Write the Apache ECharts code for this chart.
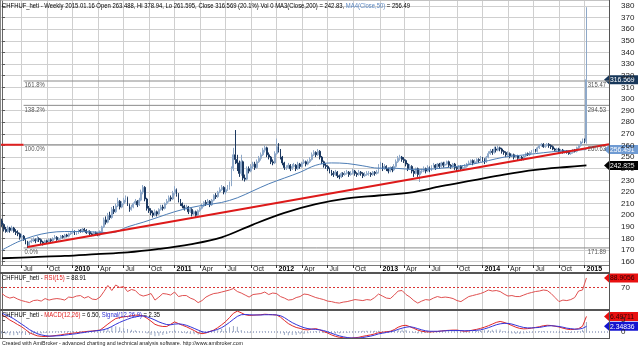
<!DOCTYPE html>
<html><head><meta charset="utf-8">
<script src="https://cdn.jsdelivr.net/npm/echarts@6/dist/echarts.min.js"></script>
<style>html,body{margin:0;padding:0;background:#fff}#c{width:638px;height:347px}</style>
</head><body><div id="c"></div>
<script>
// ---------------- DATA ----------------
const startFriday = [2009, 4, 1];       // first weekly bar: Friday 2009-05-01
const padWeeks = 11;                      // empty weeks on the right of the last bar
const firstOpen = 195;
const closes = [
192,188,186,189,187,189,186,185,184,181,
182,179,177,174,177,178,179,178,180,179,
177,176,178,177,179,178,180,181,179,180,
182,181,183,182,184,185,186,184,185,187,
186,188,187,185,186,184,183,185,184,183,
186,190,196,194,200,198,205,203,208,212,
207,210,213,215,209,205,207,210,212,209,
213,220,224,214,206,204,202,200,203,201,
205,207,206,210,212,215,214,219,222,218,
213,210,208,206,207,203,205,201,203,200,
204,206,208,211,210,212,209,213,217,216,
220,222,224,220,222,224,226,240,252,248,
245,236,246,232,231,240,238,242,244,241,
246,249,252,256,258,252,250,246,245,253,
259,256,250,245,241,241,243,240,242,243,
240,244,242,245,246,244,246,248,252,254,
252,255,250,246,243,242,240,238,236,235,
237,234,233,236,235,236,237,235,236,238,
236,235,237,236,234,235,236,236,235,237,
236,237,242,244,240,242,240,238,241,239,
242,246,249,250,248,247,244,240,242,238,
236,240,235,238,238,240,238,241,239,242,
243,241,244,242,245,243,244,246,243,242,
244,241,240,242,240,241,242,244,245,247,
245,246,248,247,249,248,246,250,253,255,
254,257,256,258,257,255,254,252,253,251,
252,250,251,249,250,248,251,253,252,254,
255,256,255,258,260,261,259,260,261,260,
259,257,256,257,255,256,254,255,254,253,
254,256,255,258,260,263,264,263.488,316.569];
const highs = [
197,193,190,191,190,191,190,188,187,185,
184,183,180,178,178,180,181,180,182,181,
180,178,179,179,180,180,181,183,182,181,
183,183,184,184,185,186,188,187,186,188,
188,189,189,188,187,187,185,186,186,185,
187,191,198,199,202,203,207,208,210,215,
213,212,215,217,216,210,209,211,214,213,
215,222,226,225,215,208,206,204,205,204,
206,209,209,211,214,217,217,221,225,223,
219,214,211,209,209,208,207,206,204,204,
205,207,210,212,213,214,213,214,218,219,
221,224,226,225,224,226,229,242,258,273.3,
252,247,252,247,235,242,242,244,246,246,
248,251,254,258,260,259,254,251,248,255,
266,262,257,251,246,243,245,244,244,245,
244,246,245,246,248,247,248,250,254,256,
255,257,256,251,247,245,243,241,239,238,
239,238,235,237,237,238,239,238,238,240,
239,237,239,238,237,237,238,238,237,238,
238,239,244,246,245,244,243,241,242,242,
244,248,251,252,251,250,248,245,244,243,
239,241,241,239,240,242,241,243,242,243,
245,244,245,245,246,246,246,247,247,244,
245,245,242,243,243,243,244,245,247,248,
248,248,249,249,251,250,249,251,255,257,
257,259,259,260,259,258,256,255,255,254,
253,253,252,252,251,251,252,254,254,255,
256,257,257,259,261,262,262,261,262,262,
261,260,258,258,258,257,257,256,256,255,
255,257,257,259,261,264,266,266,378.94];
const lows = [
190,186,185,185,185,186,185,183,182,179,
179,178,175,171.89,173,176,177,176,177,177,
175,174,175,176,176,177,177,179,178,178,
179,180,180,181,181,183,184,183,183,184,
185,185,186,184,184,183,182,182,183,182,
182,185,189,192,193,196,197,201,202,207,
205,206,209,211,208,203,204,206,209,207,
208,212,218,212,204,202,200,198,199,199,
200,204,204,205,209,211,212,213,217,216,
211,208,206,204,205,201,202,199,200,198,
199,203,205,207,208,209,207,208,212,214,
215,219,221,218,218,221,222,225,238,244,
238,233,234,230,229,230,236,237,240,239,
240,245,247,251,254,250,248,244,243,244,
252,254,248,243,239,239,240,238,239,241,
238,239,240,241,244,242,243,245,247,251,
250,251,248,244,241,240,238,236,234,233,
234,232,231,232,233,234,235,233,234,235,
234,233,234,234,232,233,234,234,233,234,
234,235,236,240,238,239,238,236,237,237,
238,241,245,247,246,245,242,238,239,236,
233,235,233,228.6,236,237,236,237,237,238,
241,239,240,240,241,241,242,243,241,240,
241,239,238,239,238,239,240,241,243,244,
243,244,245,245,246,246,244,245,249,252,
252,253,254,255,255,253,252,250,251,249,
250,248,249,247,248,247,247,250,251,251,
253,254,254,254,257,259,258,258,259,258,
257,256,255,255,254,254,253,253,253,252,
252,253,254,254,257,259,262,262,261.595];

const ma50Weeks = [0,8,16,24,32,40,48,56,64,72,80,88,96,104,112,120,128,136,144,152,160,168,176,184,192,200,208,216,224,232,240,248,256,264,272,280,288,296,298];
const ma50Vals  = [170,177,182,185,186,186,185.5,185,190,194,198.5,203,206.5,209,211,215,221,227,232,237,243,245,244.5,242.5,240.5,240.5,239.5,239.5,240.5,242,244,247,250,251.5,253,254.5,255.5,256.3,256.49];
const ma200Weeks = [0,16,32,48,64,80,96,112,128,144,160,176,192,208,224,240,256,272,288,298];
const ma200Vals  = [163,164,165,166.5,168,171,175,181,192,202,209.5,214.5,217,219.5,225,230,235,239,241.5,242.83];

const trendWeeks = [13, 309.5];
const trendVals  = [172.6, 261.0];

const fibLow = 171.89, fibHigh = 260.63;
const fibPcts = [0, 100, 138.2, 161.8];
const fibStartWeek = 11;

const indStep = 2;   // RSI / MACD read every 2nd week
const rsiVals = [
58,52,49,51,47,44,42,40,44,45,
43,48,45,47,48,47,45,51,50,53,
54,49,52,47,46,51,62,74,64,75,
70,72,62,66,64,56,53,55,58,45,
51,58,57,55,61,52,54,54,49,46,
40,44,51,55,58,59,61,63,65,68,
62,59,55,51,56,57,58,61,56,59,
58,52,49,45,46,50,52,57,56,53,
50,48,46,43,42,40,39,41,42,44,
46,45,44,46,45,50,57,53,49,48,
55,63,64,56,51,44,39,43,46,45,
49,52,50,51,50,48,44,42,47,52,
54,56,58,61,65,63,64,62,57,53,
54,52,52,55,58,60,62,63,65,64,
58,50,42,45,44,46,50,63,65,88.9056];
const macdVals = [
7.1,6.2,5.0,4.1,3.1,2.2,1.0,-0.3,-1.0,-1.6,
-1.8,-1.9,-1.8,-1.6,-1.4,-1.2,-0.9,-0.7,-0.5,-0.3,
-0.1,0.1,0.3,0.4,0.6,0.8,2.0,3.3,4.5,5.6,
6.0,6.3,6.5,6.8,7.0,7.0,6.7,5.7,4.5,3.2,
2.6,2.3,2.3,3.2,4.2,3.5,2.8,2.2,1.4,0.6,
-0.3,-0.7,-0.4,0.2,0.8,1.8,3.0,4.3,6.0,7.8,
8.7,8.0,7.2,6.9,7.0,7.1,7.2,7.4,7.3,7.2,
7.1,6.2,4.8,3.5,2.6,1.9,1.5,1.0,0.9,1.2,
1.4,0.9,0.2,-0.4,-1.2,-1.8,-2.2,-2.4,-2.6,-2.5,
-2.4,-2.2,-1.8,-1.5,-1.2,-0.8,-0.3,-0.1,0.1,0.3,
1.0,2.0,2.6,2.8,2.2,1.5,0.8,0.3,0.1,0.0,
0.1,0.2,0.4,0.6,0.7,0.8,0.8,0.5,0.3,0.4,
0.8,1.1,1.5,2.0,2.6,3.3,4.0,4.4,4.0,3.4,
2.7,2.0,1.5,1.3,1.4,1.6,1.9,2.2,2.6,2.8,
2.7,2.4,2.1,1.6,1.2,1.0,1.1,1.4,2.4,6.49711];
const signalVals = [
7.8,7.1,6.4,5.5,4.4,3.3,2.2,1.0,0.1,-0.7,
-1.2,-1.5,-1.7,-1.7,-1.6,-1.5,-1.3,-1.1,-0.9,-0.7,
-0.4,-0.2,0.1,0.3,0.5,0.7,1.0,1.5,2.3,3.2,
4.0,4.7,5.3,5.9,6.3,6.6,6.7,6.3,5.7,5.0,
4.2,3.6,3.1,3.0,3.3,3.4,3.2,2.8,2.2,1.5,
0.8,0.1,-0.2,0.2,0.6,1.1,1.8,2.8,4.0,5.3,
6.5,7.2,7.3,7.2,7.1,7.1,7.1,7.2,7.2,7.2,
7.1,6.8,6.0,4.9,3.9,3.1,2.4,1.8,1.4,1.2,
1.1,0.9,0.6,0.1,-0.5,-1.1,-1.6,-2.0,-2.3,-2.5,
-2.5,-2.5,-2.3,-2.0,-1.7,-1.3,-0.8,-0.5,-0.2,0.1,
0.5,1.1,1.6,2.0,2.2,1.9,1.4,0.9,0.5,0.3,
0.3,0.3,0.4,0.5,0.6,0.6,0.6,0.6,0.5,0.6,
0.6,0.7,0.9,1.3,1.8,2.4,3.0,3.4,3.6,3.6,
3.3,2.8,2.3,1.9,1.7,1.7,1.8,1.9,2.2,2.5,
2.6,2.5,2.3,2.0,1.6,1.4,1.2,1.2,1.5,2.34836];

const priceTicks = [160,170,180,190,200,210,220,230,240,250,260,270,280,290,300,310,320,330,340,350,360,370,380];
const rsiTicks = [70];
const macdTicks = [0, 5];
const rsiLevel = 70;
const monthAbbr = ['Jan','Feb','Mar','Apr','May','Jun','Jul','Aug','Sep','Oct','Nov','Dec'];

const titleMain = ['CHFHUF_heti - Weekly 2015.01.16 Open 263.488, Hi 378.94, Lo 261.595, Close 316.569 (20.1%) Vol 0 ', 'MA3(Close,200)', ' = 242.83, ', 'MA4(Close,50)', ' = 256.49'];
const titleRsi = ['CHFHUF_heti - ', 'RSI(15)', ' = 88.91'];
const titleMacd = ['CHFHUF_heti - ', 'MACD(12,26)', ' = 6.50, ', 'Signal(12,26,9)', ' = 2.35'];
const footerText = 'Created with AmiBroker - advanced charting and technical analysis software. http://www.amibroker.com';

// ---------------- BUILD ----------------
const nW = closes.length;
const nCat = nW + padWeeks;
const DAY = 86400000;
const t0 = Date.UTC(startFriday[0], startFriday[1], startFriday[2]);
const weekMonday = i => new Date(t0 + i * 7 * DAY - 4 * DAY);
const labelWeeks = [];
for (let i = 0; i < nCat; i++) {
  const m = weekMonday(i);
  if (m.getUTCDate() <= 7 && m.getUTCMonth() % 3 === 0) labelWeeks.push(i);
}
const ohlc = closes.map((c, i) => [i, i ? closes[i - 1] : firstOpen, c, lows[i], highs[i]]);
const ma50 = ma50Weeks.map((w, k) => [w, ma50Vals[k]]);
const ma200 = ma200Weeks.map((w, k) => [w, ma200Vals[k]]);
const rsi = rsiVals.map((v, k) => [k * indStep, v]);
const macd = macdVals.map((v, k) => [k * indStep, v]);
const signal = signalVals.map((v, k) => [k * indStep, v]);
const hist = macdVals.map((v, k) => [k * indStep, +(v - signalVals[k]).toFixed(3)]);
const fibVals = fibPcts.map(p => fibLow + (fibHigh - fibLow) * p / 100);

const X0 = -0.5, X1 = nCat - 0.5;
const FONT = 'Liberation Sans';
const gridL = 1, gridR = 29;

function xAxisCfg(gi, showLabels) {
  return {
    type: 'value', gridIndex: gi, min: X0, max: X1,
    axisLine: { show: showLabels, lineStyle: { color: '#777', width: 1 } },
    axisTick: { show: showLabels, customValues: labelWeeks, length: 3, lineStyle: { color: '#333' } },
    axisLabel: {
      show: showLabels, customValues: labelWeeks, margin: 1, align: 'left', padding: [0, 0, 0, 2],
      fontFamily: FONT, fontSize: 7, color: '#111',
      formatter: v => { const m = weekMonday(Math.round(v)); return m.getUTCMonth() === 0 ? '{y|' + m.getUTCFullYear() + '}' : '{m|' + monthAbbr[m.getUTCMonth()] + '}'; },
      rich: { y: { fontWeight: 'bold', fontSize: 7, fontFamily: FONT, color: '#000' }, m: { fontSize: 7, fontFamily: FONT, color: '#222' } }
    },
    splitLine: { show: true, lineStyle: { color: '#cfcfcf', width: 1 } }
  };
}
function yAxisCfg(gi, min, max, ticks, split) {
  return {
    type: 'value', gridIndex: gi, position: 'right', min: min, max: max, scale: true,
    axisLine: { show: true, lineStyle: { color: '#666' } },
    axisTick: { show: true, customValues: ticks, length: 3, lineStyle: { color: '#555' } },
    axisLabel: { customValues: ticks, margin: 12, fontFamily: FONT, fontSize: 8, color: '#222' },
    splitLine: { show: split, lineStyle: { color: '#cfcfcf', width: 1 } }
  };
}

const seg = (x0, x1, v) => [[x0, v], [x1, v]];
const lineS = (gi, data, color, width, extra) => Object.assign({
  type: 'line', xAxisIndex: gi, yAxisIndex: gi, data: data, symbol: 'none', silent: true,
  lineStyle: { color: color, width: width }, z: 3, animation: false
}, extra || {});

const series = [];
fibVals.forEach(v => series.push(lineS(0, seg(fibStartWeek, X1, v), '#8a8a8a', 1, { z: 1 })));
series.push(lineS(0, seg(X0, fibStartWeek, fibVals[1]), '#e02020', 2, { z: 1 }));
series.push(lineS(0, ma200, '#000000', 1.8, { smooth: 0.35 }));
series.push(lineS(0, ma50, '#4d7db5', 1, { smooth: 0.35 }));
series.push({
  type: 'candlestick', xAxisIndex: 0, yAxisIndex: 0, data: ohlc, encode: { x: 0, y: [1, 2, 3, 4] },
  barWidth: 1.4, z: 2, silent: true,
  itemStyle: { color: '#9fb7d3', color0: '#1b3860', borderColor: '#8ea8c8', borderColor0: '#1b3860', borderWidth: 1 }
});
series.push(lineS(0, trendWeeks.map((w, k) => [w, trendVals[k]]), '#dd1a1a', 2, { z: 4 }));
// RSI pane
series.push(lineS(1, seg(X0, X1, rsiLevel), '#d83030', 1, { lineStyle: { color: '#d83030', width: 1, type: [2, 2] }, z: 2 }));
series.push(lineS(1, rsi, '#e05050', 1));
// MACD pane
series.push(lineS(2, seg(X0, X1, 0), '#5f6f9f', 1, { lineStyle: { color: '#5f6f9f', width: 1, type: [1, 2] }, z: 1 }));
series.push({ type: 'bar', xAxisIndex: 2, yAxisIndex: 2, data: hist, barWidth: 1, silent: true, itemStyle: { color: '#9aa9c4' }, z: 2, animation: false });
series.push(lineS(2, macd, '#e02828', 1));
series.push(lineS(2, signal, '#3434d8', 1));

const option = {
  animation: false,
  backgroundColor: '#ffffff',
  grid: [
    { left: gridL, right: gridR, top: 1, height: 264 },
    { left: gridL, right: gridR, top: 274, height: 35 },
    { left: gridL, right: gridR, top: 311, height: 27 }
  ],
  xAxis: [xAxisCfg(0, true), xAxisCfg(1, false), xAxisCfg(2, false)],
  yAxis: [yAxisCfg(0, 157.2, 384.3, priceTicks, true), yAxisCfg(1, 27.3, 96.8, rsiTicks, false), yAxisCfg(2, -2.5, 8.75, macdTicks, false)],
  series: series
};

const chart = echarts.init(document.getElementById('c'), null, { renderer: 'canvas' });
chart.setOption(option);

// ---------------- OVERLAYS (text, tags) ----------------
const ctx = document.createElement('canvas').getContext('2d');
function measure(t, size) { ctx.font = size + 'px "' + FONT + '"'; return ctx.measureText(t).width; }
const titleScale = 408 / measure(titleMain.join(''), 8);
const py = (gi, v) => chart.convertToPixel({ yAxisIndex: gi }, v);
const pxX = (w) => chart.convertToPixel({ xAxisIndex: 0 }, w);

function richText(x, y, parts, styles, size, scale) {
  let s = '';
  parts.forEach((p, k) => { s += '{' + styles[k] + '|' + p + '}'; });
  return {
    type: 'text', x: x, y: y, scaleX: scale, z: 50, silent: true,
    style: {
      text: s, fontFamily: FONT, fontSize: size, verticalAlign: 'middle',
      rich: {
        k: { fill: '#000', fontSize: size, fontFamily: FONT },
        r: { fill: '#e02020', fontSize: size, fontFamily: FONT },
        b: { fill: '#2c2cd0', fontSize: size, fontFamily: FONT },
        lb: { fill: '#5a86c0', fontSize: size, fontFamily: FONT }
      }
    }
  };
}
function tag(y, bg, fg, txt) {
  const x0 = 604, x1 = 638, h = 4.5;
  return {
    type: 'group', z: 60, silent: true, children: [
      { type: 'polygon', shape: { points: [[x0, y], [x0 + 5, y - h], [x1, y - h], [x1, y + h], [x0 + 5, y + h]] }, style: { fill: bg } },
      { type: 'text', x: 610, y: y, scaleX: 0.85, style: { text: txt, fill: fg, fontFamily: FONT, fontSize: 8, verticalAlign: 'middle' } }
    ]
  };
}
const gfx = [];
gfx.push({ type: 'rect', shape: { x: 0, y: 0, width: 609, height: 0.5 }, style: { fill: '#888' }, z: 40 });
gfx.push({ type: 'line', shape: { x1: 0.5, y1: 0, x2: 0.5, y2: 339 }, style: { stroke: '#888', lineWidth: 1 }, z: 40 });
gfx.push({ type: 'line', shape: { x1: 609.5, y1: 0, x2: 609.5, y2: 339 }, style: { stroke: '#555', lineWidth: 1 }, z: 40 });
gfx.push({ type: 'line', shape: { x1: 0, y1: 273, x2: 610, y2: 273 }, style: { stroke: '#555', lineWidth: 2 }, z: 40 });
gfx.push({ type: 'line', shape: { x1: 0, y1: 310, x2: 610, y2: 310 }, style: { stroke: '#555', lineWidth: 2 }, z: 40 });
gfx.push({ type: 'line', shape: { x1: 0, y1: 338.5, x2: 610, y2: 338.5 }, style: { stroke: '#555', lineWidth: 1 }, z: 40 });

gfx.push(richText(2, 6, titleMain, ['k', 'k', 'k', 'lb', 'k'], 8, titleScale));
gfx.push(richText(2, 278, titleRsi, ['k', 'r', 'k'], 8, titleScale));
gfx.push(richText(2, 315, titleMacd, ['k', 'r', 'k', 'b', 'k'], 8, titleScale));
gfx.push({ type: 'text', x: 2, y: 343.5, z: 50, scaleX: 241 / measure(footerText, 6), style: { text: footerText, fill: '#222', fontFamily: FONT, fontSize: 6, verticalAlign: 'middle' } });

const fibLabels = fibPcts.map(p => p.toFixed(1) + '%');
const fxs = pxX(fibStartWeek);
fibVals.forEach((v, k) => {
  const y = py(0, v);
  gfx.push({ type: 'text', x: fxs + 1, y: y + 1, scaleX: 0.85, z: 45, style: { text: fibLabels[k], fill: '#555', fontFamily: FONT, fontSize: 7, verticalAlign: 'top' } });
  gfx.push({ type: 'text', x: 606, y: y + 1, scaleX: 0.85, z: 45, style: { text: v.toFixed(2), fill: '#555', fontFamily: FONT, fontSize: 7, verticalAlign: 'top', align: 'right' } });
});

gfx.push(tag(py(0, closes[nW - 1]), '#17375a', '#ffffff', closes[nW - 1].toFixed(3)));
gfx.push(tag(py(0, 256.491), '#6f9bd3', '#ffffff', '256.491'));
gfx.push(tag(py(0, 242.825), '#000000', '#ffffff', '242.825'));
gfx.push(tag(py(1, rsiVals[rsiVals.length - 1]), '#e81010', '#300000', rsiVals[rsiVals.length - 1].toFixed(4)));
gfx.push(tag(py(2, macdVals[macdVals.length - 1]), '#e81010', '#300000', macdVals[macdVals.length - 1].toFixed(5)));
gfx.push(tag(py(2, signalVals[signalVals.length - 1]), '#1414d0', '#ffffff', signalVals[signalVals.length - 1].toFixed(5)));

chart.setOption({ graphic: gfx });
</script>
</body></html>
